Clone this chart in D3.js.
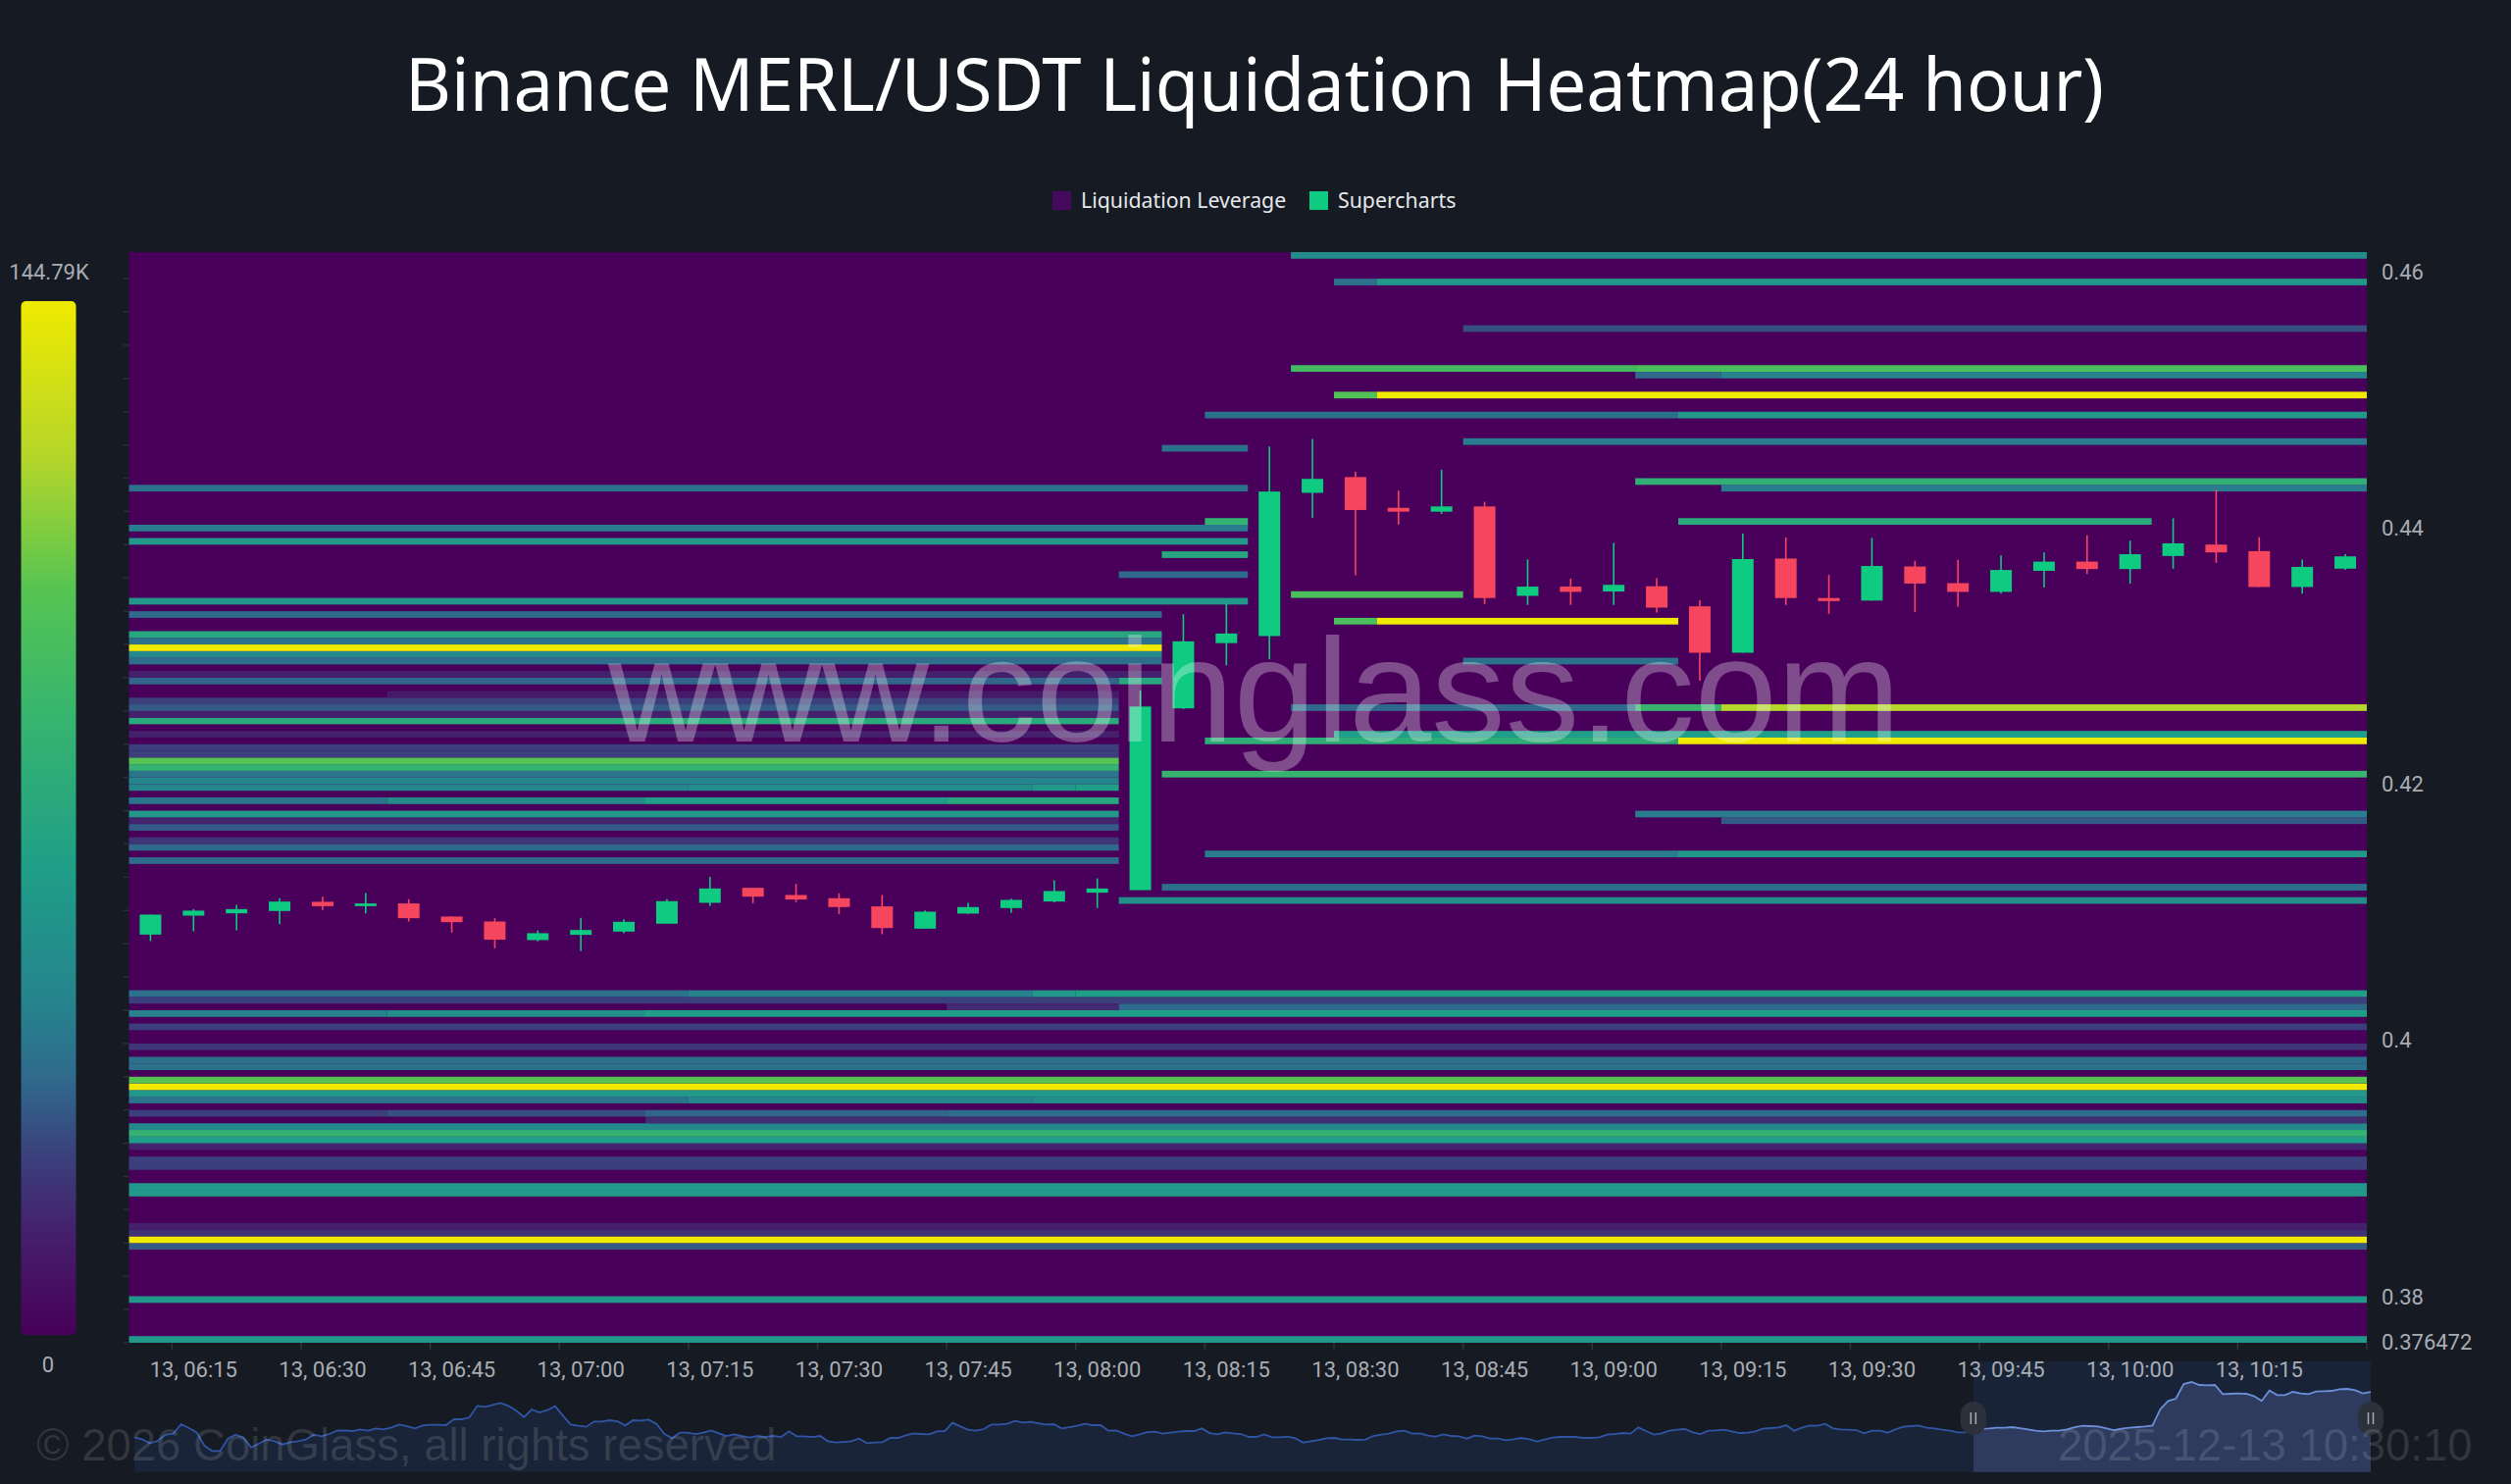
<!DOCTYPE html>
<html><head><meta charset="utf-8">
<script src="https://cdn.jsdelivr.net/npm/d3@7/dist/d3.min.js"></script>
<style>html,body{margin:0;padding:0;background:#151a23;overflow:hidden}svg{display:block}</style>
</head><body><svg id="c" width="2560" height="1513"></svg>
<script>
const titleText = "Binance MERL/USDT Liquidation Heatmap(24 hour)";
const legendNames = ["Liquidation Leverage", "Supercharts"];
const legendColors = ["#450a5e", "#0ecb81"];
const priceTicks = [0.46, 0.44, 0.42, 0.4, 0.38, 0.376472];
const rowCount = 164;
const rowTickEvery = 5;
const colorStops = [0, 0.1, 0.17, 0.25, 0.32, 0.45, 0.6, 0.72, 0.85, 1];
const colorValues = ["#48005a", "#45206c", "#3b3f7b", "#2f6a8c", "#26838d", "#1f9e88", "#37b56e", "#55c452", "#b5d62a", "#f0ea00"];
const maxLabel = "144.79K";
const times = ["06:10","06:15","06:20","06:25","06:30","06:35","06:40","06:45","06:50","06:55","07:00","07:05","07:10","07:15","07:20","07:25","07:30","07:35","07:40","07:45","07:50","07:55","08:00","08:05","08:10","08:15","08:20","08:25","08:30","08:35","08:40","08:45","08:50","08:55","09:00","09:05","09:10","09:15","09:20","09:25","09:30","09:35","09:40","09:45","09:50","09:55","10:00","10:05","10:10","10:15","10:20","10:25"];
const timeLabels = ["06:15","06:30","06:45","07:00","07:15","07:30","07:45","08:00","08:15","08:30","08:45","09:00","09:15","09:30","09:45","10:00","10:15"];
const opens = [.40826,.40974,.40992,.41010,.41082,.41048,.41069,.40967,.40928,.40783,.40824,.40849,.40911,.41074,.41191,.41135,.41110,.41046,.40872,.40990,.41033,.41084,.41153,.41173,.42592,.43101,.43156,.44274,.44397,.44157,.44127,.44168,.43470,.43542,.43504,.43545,.43388,.43026,.43761,.43453,.43433,.43699,.43569,.43501,.43665,.43737,.43679,.43781,.43870,.43819,.43539,.43682];
const closes = [.40982,.41013,.41025,.41084,.41048,.41069,.40954,.40923,.40786,.40837,.40862,.40926,.41087,.41186,.41122,.41100,.41041,.40877,.41005,.41041,.41097,.41166,.41186,.42606,.43115,.43176,.44284,.44383,.44140,.44127,.44168,.43453,.43542,.43501,.43556,.43378,.43026,.43757,.43453,.43429,.43703,.43566,.43501,.43672,.43737,.43679,.43795,.43880,.43809,.43539,.43696,.43778];
const highs = [.40982,.41025,.41059,.41110,.41122,.41150,.41102,.40967,.40954,.40859,.40957,.40946,.41102,.41276,.41191,.41222,.41148,.41135,.41015,.41074,.41107,.41250,.41265,.42729,.43327,.43412,.44636,.44694,.44438,.44291,.44455,.44205,.43754,.43604,.43884,.43607,.43436,.43956,.43925,.43634,.43922,.43744,.43751,.43785,.43809,.43942,.43901,.44075,.44297,.43928,.43754,.43795];
const lows = [.40775,.40852,.40859,.40908,.41018,.40992,.40928,.40842,.40719,.40773,.40699,.40837,.40911,.41048,.41071,.41079,.40987,.40829,.40872,.40987,.40995,.41077,.41033,.41173,.42585,.42927,.42975,.44079,.43631,.44027,.44110,.43405,.43399,.43399,.43399,.43340,.42807,.43026,.43399,.43330,.43433,.43344,.43385,.43487,.43535,.43641,.43566,.43682,.43727,.43539,.43487,.43672];
// [row, first column, end column, share of the maximum]
const heatSegments = [
[0,0,52,.42],[6,0,52,.42],[14,0,52,.22],[15,0,52,1],[16,0,52,.14],[17,0,52,.1],[22,0,52,.42],[23,0,52,.42],[26,0,52,.17],[27,0,52,.17],
[29,0,52,.11],[30,0,52,.45],[31,0,52,.58],[32,0,52,.35],[33,12,52,.13],[34,0,6,.17],[34,6,12,.2],[34,12,19,.24],[34,19,52,.26],
[36,0,13,.28],[36,13,21,.35],[36,21,52,.38],[37,0,52,.42],[38,0,52,1],[39,0,52,.72],[41,0,52,.27],[42,0,52,.27],[44,0,52,.15],[47,0,52,.17],
[49,0,6,.32],[49,6,12,.38],[49,12,52,.45],[50,19,23,.12],[50,23,52,.25],[51,0,52,.17],[52,0,13,.27],[52,13,21,.32],[52,21,22,.42],[52,22,52,.45],
[66,23,52,.38],[68,24,52,.27],[72,0,23,.26],[73,25,36,.3],[73,36,52,.42],[74,0,23,.25],[75,0,23,.15],[77,0,23,.22],[78,0,23,.11],[78,37,52,.22],
[79,0,23,.42],[79,35,52,.3],[81,0,6,.28],[81,6,12,.36],[81,12,19,.45],[81,19,23,.5],[83,0,13,.33],[83,13,21,.37],[83,21,22,.42],[83,22,23,.45],
[84,0,23,.33],[85,0,23,.28],[85,24,52,.6],[86,0,23,.58],[87,0,23,.72],[88,0,23,.17],[89,0,23,.17],[90,25,36,.55],[90,36,52,1],[91,0,23,.1],[91,28,52,.45],
[93,0,23,.52],[94,0,23,.1],[95,0,23,.22],[95,27,35,.25],[95,35,37,.6],[95,37,52,.85],[96,0,23,.17],[97,6,23,.08],[99,0,23,.24],[99,23,24,.5],
[100,0,24,.1],[102,0,24,.26],[102,31,36,.27],[103,0,24,.35],[104,0,24,1],[105,0,24,.27],[106,0,24,.5],[108,28,29,.68],[108,29,36,1],[109,0,24,.25],
[111,0,26,.42],[112,27,31,.68],[115,23,26,.25],[118,24,26,.5],[120,0,26,.42],[122,0,26,.3],[123,25,26,.58],[123,36,47,.52],[128,0,26,.27],[128,37,52,.3],
[129,35,52,.56],[134,24,26,.27],[135,31,52,.3],[139,25,36,.27],[139,36,52,.42],[142,28,29,.7],[142,29,52,1],[145,35,37,.25],[145,37,52,.32],
[146,27,35,.65],[146,35,52,.68],[152,31,52,.2],[159,28,29,.27],[159,29,52,.42],[163,27,52,.36]];
// relative price level of the 24-hour overview, 5-minute steps
const sparkLevels = [105,100,88,95,114,117,146,134,121,80,64,64,102,114,105,75,87,99,94,84,91,94,99,114,109,116,126,127,125,130,126,133,130,136,145,140,133,142,144,144,143,161,161,167,202,199,205,211,202,187,168,191,182,189,201,172,145,141,138,154,154,158,155,142,158,157,160,147,117,103,120,120,116,120,127,118,110,115,110,105,110,107,110,107,124,109,109,107,110,94,
90,92,94,102,88,90,91,104,104,112,118,116,115,124,125,151,139,129,126,131,145,145,147,156,151,153,149,145,146,133,137,141,147,143,143,126,127,117,109,115,122,123,117,120,123,125,125,133,119,115,121,118,116,107,107,115,106,106,108,103,90,94,98,103,104,99,99,98,99,110,114,117,124,126,117,118,111,108,115,110,109,102,111,109,102,102,97,100,104,100,93,
99,105,107,107,107,104,104,106,114,116,119,117,136,125,114,118,126,129,131,121,116,126,127,129,124,119,120,124,132,134,136,143,126,135,142,141,147,133,130,129,128,118,126,126,120,130,138,140,142,135,133,129,126,121,121,132,132,133,135,135,137,134,130,126,124,126,126,130,137,141,140,139,134,128,132,135,137,139,142,192,217,224,269,275,266,265,266,238,239,240,239,232,217,249,235,235,245,240,238,246,247,248,253,254,250,240,245];
const sparkWindowStart = 236;
const siteMark = "www.coinglass.com";
const copyrightText = "\u00a9 2026 CoinGlass, all rights reserved";
const stampText = "2025-12-13 10:30:10";

const svg = d3.select("#c");
const plot = {l:131.5, r:2413, t:257, b:1369};
const font = "Roboto, sans-serif", axisColor = "#a9adb3";

const color = d3.scaleLinear().domain(colorStops).range(colorValues).interpolate(d3.interpolateRgb);
const rowY = d3.scaleBand().domain(d3.range(rowCount)).range([plot.b, plot.t]);
const colX = d3.scaleLinear().domain([0, times.length]).range([plot.l, plot.r]);
const x = d3.scaleBand().domain(times).range([plot.l, plot.r]);
const price = d3.scaleLinear().domain([0.38, 0.46]).range([1322, 277]);

svg.append("rect").attr("width",2560).attr("height",1513).attr("fill","#151a23");

// title
svg.append("text").attr("x",1279).attr("y",113).attr("text-anchor","middle")
  .attr("font-family","'Noto Sans', sans-serif").attr("font-size",74).attr("fill","#fff")
  .attr("textLength",1732).attr("lengthAdjust","spacingAndGlyphs").text(titleText);

// legend
const legendX = [1073, 1335];
legendNames.forEach((n,i)=>{
  svg.append("rect").attr("x",legendX[i]).attr("y",195).attr("width",19).attr("height",19).attr("fill",legendColors[i]);
  svg.append("text").attr("x",legendX[i]+29).attr("y",205).attr("dy","0.35em")
    .attr("font-family","'Noto Sans', sans-serif").attr("font-size",21.3).attr("fill","#e6e8ea").text(n);
});

// colour bar
const defs = svg.append("defs");
const grad = defs.append("linearGradient").attr("id","bar").attr("x1",0).attr("y1",1).attr("x2",0).attr("y2",0);
colorStops.forEach((s,i)=>grad.append("stop").attr("offset",s).attr("stop-color",colorValues[i]));
svg.append("rect").attr("x",21.5).attr("y",307).attr("width",56).attr("height",1054).attr("rx",5).attr("fill","url(#bar)");
svg.append("text").attr("x",50).attr("y",277).attr("dy","0.35em").attr("text-anchor","middle")
  .attr("font-family",font).attr("font-size",22).attr("fill",axisColor).text(maxLabel);
svg.append("text").attr("x",49).attr("y",1391).attr("dy","0.35em").attr("text-anchor","middle")
  .attr("font-family",font).attr("font-size",22).attr("fill",axisColor).text("0");

// heat map
svg.append("rect").attr("x",plot.l).attr("y",plot.t).attr("width",plot.r-plot.l).attr("height",plot.b-plot.t).attr("fill",color(0));
svg.append("g").selectAll("rect").data(heatSegments).join("rect")
  .attr("x",d=>colX(d[1])).attr("width",d=>colX(d[2])-colX(d[1]))
  .attr("y",d=>rowY(d[0])).attr("height",rowY.bandwidth())
  .attr("fill",d=>color(d[3]));

// row tick marks
svg.append("g").selectAll("line").data(d3.range(0,rowCount,rowTickEvery)).join("line")
  .attr("x1",plot.l-6).attr("x2",plot.l)
  .attr("y1",d=>rowY(d)+rowY.bandwidth()).attr("y2",d=>rowY(d)+rowY.bandwidth())
  .attr("stroke","#2b3038").attr("stroke-width",1.5);

// candles
const candles = times.map((t,i)=>({t,o:opens[i],c:closes[i],h:highs[i],l:lows[i]}));
const bodyW = 22;
const cg = svg.append("g").selectAll("g").data(candles).join("g");
const cCol = d=>d.c>=d.o?"#0ecb81":"#f6465d";
cg.append("line")
  .attr("x1",d=>x(d.t)+x.bandwidth()/2).attr("x2",d=>x(d.t)+x.bandwidth()/2)
  .attr("y1",d=>price(d.h)).attr("y2",d=>price(d.l))
  .attr("stroke",cCol).attr("stroke-width",1.6);
cg.append("rect")
  .attr("x",d=>x(d.t)+x.bandwidth()/2-bodyW/2).attr("width",bodyW)
  .attr("y",d=>price(Math.max(d.o,d.c))).attr("height",d=>Math.max(1,Math.abs(price(d.o)-price(d.c))))
  .attr("fill",cCol);

// price axis
const yAxis = d3.axisRight(price).tickValues(priceTicks).tickSize(0).tickPadding(0).tickFormat(d=>String(d));
const yg = svg.append("g").attr("transform","translate(2428,0)").call(yAxis);
yg.select(".domain").remove();
yg.selectAll("text").attr("font-family",font).attr("font-size",22).attr("fill",axisColor);

// overview
const sx = d3.scaleLinear().domain([0,sparkLevels.length-1]).range([137,2417]);
const sy = d3.scaleLinear().domain([0,302]).range([1500.7,1400]);
const line = d3.line().x((d,i)=>sx(i)).y(d=>sy(d));
const area = d3.area().x((d,i)=>sx(i)).y0(sy(0)).y1(d=>sy(d));
const winX = sx(sparkWindowStart);
defs.append("clipPath").attr("id","win").append("rect").attr("x",winX).attr("y",1380).attr("width",2417-winX+2).attr("height",125);
defs.append("clipPath").attr("id","rest").append("rect").attr("x",130).attr("y",1380).attr("width",winX-130).attr("height",125);
svg.append("rect").attr("x",winX).attr("y",1388).attr("width",2417-winX).attr("height",sy(0)-1388).attr("fill","#182338");
svg.append("path").datum(sparkLevels).attr("d",area).attr("fill","#1a2438").attr("clip-path","url(#rest)");
svg.append("path").datum(sparkLevels).attr("d",line).attr("fill","none").attr("stroke","#2f55a4").attr("stroke-width",1.8).attr("clip-path","url(#rest)");
svg.append("path").datum(sparkLevels).attr("d",area).attr("fill","#2f3b5e").attr("clip-path","url(#win)");
svg.append("path").datum(sparkLevels).attr("d",line).attr("fill","none").attr("stroke","#6b8fd8").attr("stroke-width",1.8).attr("clip-path","url(#win)");
[winX,2417].forEach(hx=>{
  svg.append("rect").attr("x",hx-13).attr("y",1429).attr("width",26).attr("height",34).attr("rx",13).attr("fill","#2c313c");
  [-2.5,2.5].forEach(o=>svg.append("line").attr("x1",hx+o).attr("x2",hx+o).attr("y1",1440).attr("y2",1452).attr("stroke","#a9adb3").attr("stroke-width",1.5));
});

// time axis, above the overview window
const xAxis = d3.axisBottom(x).tickValues(timeLabels).tickSize(0).tickPadding(0).tickFormat(d=>"13, "+d);
const xg = svg.append("g").attr("transform","translate(0,1396)").call(xAxis);
xg.select(".domain").remove();
xg.selectAll("text").attr("dy","0.35em").attr("font-family",font).attr("font-size",22).attr("fill",axisColor);
svg.append("g").selectAll("line").data(timeLabels.concat(["end"])).join("line")
  .attr("x1",d=>d==="end"?plot.r:x(d)).attr("x2",d=>d==="end"?plot.r:x(d))
  .attr("y1",plot.b).attr("y2",plot.b+7).attr("stroke","#2f343c").attr("stroke-width",1.5);

// watermarks
svg.append("text").attr("x",620).attr("y",756).attr("font-family","'Liberation Sans', Arial, sans-serif").attr("font-size",151)
  .attr("fill","#fff").attr("fill-opacity",.3).text(siteMark);
svg.append("text").attr("x",37).attr("y",1489).attr("font-family","'Liberation Sans', Arial, sans-serif").attr("font-size",45.5)
  .attr("fill","#fff").attr("fill-opacity",.12).text(copyrightText);
svg.append("text").attr("x",2098).attr("y",1489).attr("font-family","'Liberation Sans', Arial, sans-serif").attr("font-size",45.5)
  .attr("fill","#fff").attr("fill-opacity",.12).text(stampText);
</script></body></html>
